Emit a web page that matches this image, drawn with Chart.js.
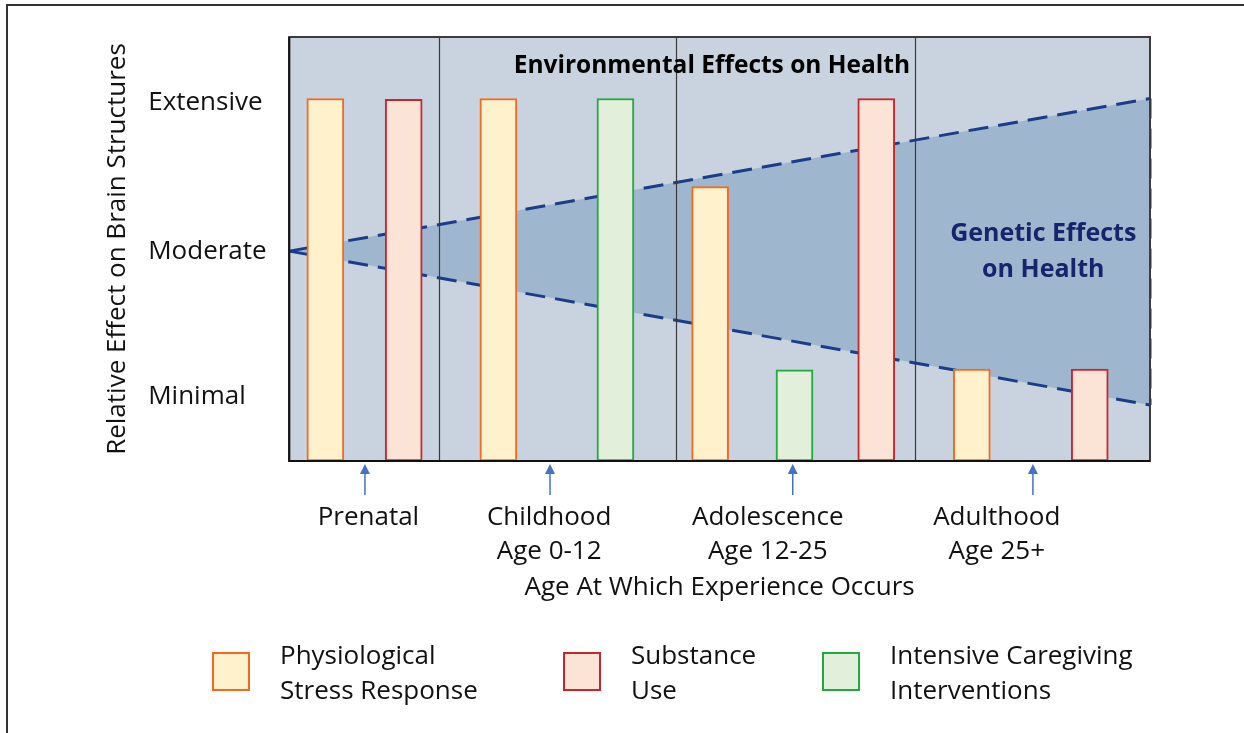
<!DOCTYPE html>
<html>
<head>
<meta charset="utf-8">
<title>Relative Effect on Brain Structures</title>
<script src="https://cdn.jsdelivr.net/npm/chart.js@4.4.1/dist/chart.umd.min.js"></script>
<style>
  html, body { margin: 0; padding: 0; background: #fff; }
  #wrap { position: relative; width: 1244px; height: 733px; }
</style>
</head>
<body>
<div id="wrap"><canvas id="brainChart"></canvas></div>
<script>
// 数据：年龄阶段（x 轴 0-100 的相对位置）
const stageLabels = [['Prenatal'], ['Childhood', 'Age 0-12'], ['Adolescence', 'Age 12-25'], ['Adulthood', 'Age 25+']];
const stageLabelX = [9.2, 30.2, 55.6, 82.2];
const stageArrowX = [8.8, 30.3, 58.5, 86.4];
const stageBounds = [17.4, 44.9, 72.7];

// y 轴等级
const levelLabels = ['Minimal', 'Moderate', 'Extensive'];
const levelValues = [1.52, 4.93, 8.45];

// 三组柱子
const stressX = [4.2, 24.3, 48.9, 79.3];
const stressY = [8.55, 8.55, 6.47, 2.17];
const substanceX = [13.3, 68.2, 93.0];
const substanceY = [8.53, 8.55, 2.17];
const caregivingX = [37.9, 58.7];
const caregivingY = [8.55, 2.15];

// 遗传影响三角区
const geneticX = [0, 100];
const geneticUpper = [4.95, 8.55];
const geneticLower = [4.95, 1.32];

const FONT = "'Open Sans', 'Noto Sans', sans-serif";
const DASH_COLOR = '#1b3c86';

function points(xs, ys) {
  return xs.map((x, i) => ({ x: x, y: ys[i] }));
}

// 画背景、分隔线、箭头、标题文字和图例
const decorPlugin = {
  id: 'decor',
  beforeDraw(chart) {
    const { ctx, chartArea: a } = chart;
    ctx.save();
    // 外框（左、上）
    ctx.strokeStyle = '#333';
    ctx.lineWidth = 2;
    ctx.beginPath();
    ctx.moveTo(7, chart.height);
    ctx.lineTo(7, 5);
    ctx.lineTo(chart.width, 5);
    ctx.stroke();
    // 绘图区背景
    ctx.fillStyle = '#c8d3df';
    ctx.fillRect(a.left, a.top, a.right - a.left, a.bottom - a.top);
    ctx.restore();
  },
  afterDatasetsDraw(chart) {
    const { ctx, chartArea: a, scales: { x } } = chart;
    ctx.save();
    ctx.strokeStyle = '#3a3a3a';
    ctx.lineWidth = 1.2;
    stageBounds.forEach(v => {
      const px = Math.round(x.getPixelForValue(v)) + 0.5;
      ctx.beginPath();
      ctx.moveTo(px, a.top);
      ctx.lineTo(px, a.bottom);
      ctx.stroke();
    });
    // 绘图区边框
    ctx.strokeStyle = '#3c3c3c';
    ctx.lineWidth = 2;
    ctx.strokeRect(a.left, a.top, a.right - a.left, a.bottom - a.top);
    ctx.strokeStyle = '#111';
    ctx.beginPath();
    ctx.moveTo(a.left, a.top);
    ctx.lineTo(a.left, a.bottom);
    ctx.lineTo(a.right, a.bottom);
    ctx.stroke();
    ctx.restore();
  },
  afterDraw(chart) {
    const { ctx, chartArea: a, scales: { x, y } } = chart;
    ctx.save();

    // 箭头
    ctx.strokeStyle = '#4472c4';
    ctx.fillStyle = '#4472c4';
    ctx.lineWidth = 1.5;
    stageArrowX.forEach(v => {
      const px = x.getPixelForValue(v);
      ctx.beginPath();
      ctx.moveTo(px, a.bottom + 34);
      ctx.lineTo(px, a.bottom + 10);
      ctx.stroke();
      ctx.beginPath();
      ctx.moveTo(px, a.bottom + 3);
      ctx.lineTo(px - 5, a.bottom + 13);
      ctx.lineTo(px + 5, a.bottom + 13);
      ctx.closePath();
      ctx.fill();
    });

    // 标题文字
    ctx.textAlign = 'center';
    ctx.textBaseline = 'middle';
    ctx.fillStyle = '#000';
    ctx.font = 'bold 24.5px ' + FONT;
    ctx.fillText('Environmental Effects on Health', x.getPixelForValue(49.1), a.top + 29);
    ctx.fillStyle = '#16246b';
    ctx.font = 'bold 25px ' + FONT;
    ctx.fillText('Genetic Effects', x.getPixelForValue(87.6), y.getPixelForValue(5.35));
    ctx.fillText('on Health', x.getPixelForValue(87.6), y.getPixelForValue(4.5));

    // 图例（每项的左边位置）
    const bars = chart.data.datasets.filter(d => d.type !== 'line');
    const legendLeft = [213, 564, 823];
    const boxTop = 653;
    const lineGap = 35;
    ctx.font = '26px ' + FONT;
    ctx.textAlign = 'left';
    bars.forEach((d, k) => {
      const lx = legendLeft[k];
      ctx.fillStyle = d.backgroundColor;
      ctx.fillRect(lx, boxTop, 36, 37);
      ctx.strokeStyle = d.borderColor;
      ctx.lineWidth = 2;
      ctx.strokeRect(lx, boxTop, 36, 37);
      ctx.fillStyle = '#111';
      d.label.split('\n').forEach((t, i) => {
        ctx.fillText(t, lx + 67, boxTop + 4 + i * lineGap);
      });
    });
    ctx.restore();
  }
};

const barStyle = { borderWidth: 2, borderSkipped: false, barThickness: 37, grouped: false, order: 1 };
const dashStyle = { borderColor: DASH_COLOR, borderWidth: 3, borderDash: [20, 10], pointRadius: 0, order: 2 };

new Chart(document.getElementById('brainChart'), {
  type: 'bar',
  data: {
    datasets: [
      Object.assign({
        label: 'Physiological\nStress Response',
        data: points(stressX, stressY),
        backgroundColor: '#fff1cc',
        borderColor: '#f26a21'
      }, barStyle),
      Object.assign({
        label: 'Substance\nUse',
        data: points(substanceX, substanceY),
        backgroundColor: '#fbe4d6',
        borderColor: '#c9252c'
      }, barStyle),
      Object.assign({
        label: 'Intensive Caregiving\nInterventions',
        data: points(caregivingX, caregivingY),
        backgroundColor: '#e2efda',
        borderColor: '#22a83c'
      }, barStyle),
      Object.assign({
        type: 'line',
        label: 'Genetic upper',
        data: points(geneticX, geneticUpper),
        fill: false
      }, dashStyle),
      Object.assign({
        type: 'line',
        label: 'Genetic lower',
        data: points(geneticX, geneticLower),
        backgroundColor: '#9fb7ce',
        fill: '-1'
      }, dashStyle),
      Object.assign({
        type: 'line',
        label: 'Genetic edge',
        data: [{ x: geneticX[1], y: geneticUpper[1] }, { x: geneticX[1], y: geneticLower[1] }],
        fill: false,
        clip: false
      }, dashStyle)
    ]
  },
  options: {
    responsive: true,
    maintainAspectRatio: false,
    animation: false,
    layout: { padding: { left: 100, right: 94, top: 37, bottom: 130 } },
    plugins: {
      legend: { display: false },
      tooltip: { enabled: false }
    },
    scales: {
      x: {
        type: 'linear',
        min: 0,
        max: 100,
        offset: false,
        grid: { display: false, drawTicks: false, offset: false },
        border: { display: false },
        afterBuildTicks: (scale) => { scale.ticks = stageLabelX.map(v => ({ value: v })); },
        afterFit: (scale) => { scale.height = 142; },
        ticks: {
          autoSkip: false,
          maxRotation: 0,
          padding: 40,
          color: '#111',
          font: { family: FONT, size: 26, lineHeight: 1.3 },
          callback: (v, i) => stageLabels[i]
        },
        title: {
          display: true,
          text: 'Age At Which Experience Occurs',
          color: '#111',
          padding: { top: 0, bottom: 0 },
          font: { family: FONT, size: 26 }
        }
      },
      y: {
        min: 0,
        max: 10,
        weight: 0,
        grid: { display: false, drawTicks: false },
        border: { display: false },
        afterBuildTicks: (scale) => { scale.ticks = levelValues.map(v => ({ value: v })); },
        afterFit: (scale) => { scale.width = 141; },
        ticks: {
          crossAlign: 'far',
          color: '#111',
          font: { family: FONT, size: 26 },
          callback: (v, i) => levelLabels[i]
        }
      },
      yTitle: {
        type: 'linear',
        position: 'left',
        weight: 1,
        min: 0,
        max: 1,
        grid: { display: false, drawTicks: false },
        border: { display: false },
        ticks: { display: false },
        title: {
          display: true,
          text: 'Relative Effect on Brain Structures',
          color: '#111',
          padding: { top: 2, bottom: 15 },
          font: { family: FONT, size: 26 }
        }
      }
    }
  },
  plugins: [decorPlugin]
});
</script>
</body>
</html>
